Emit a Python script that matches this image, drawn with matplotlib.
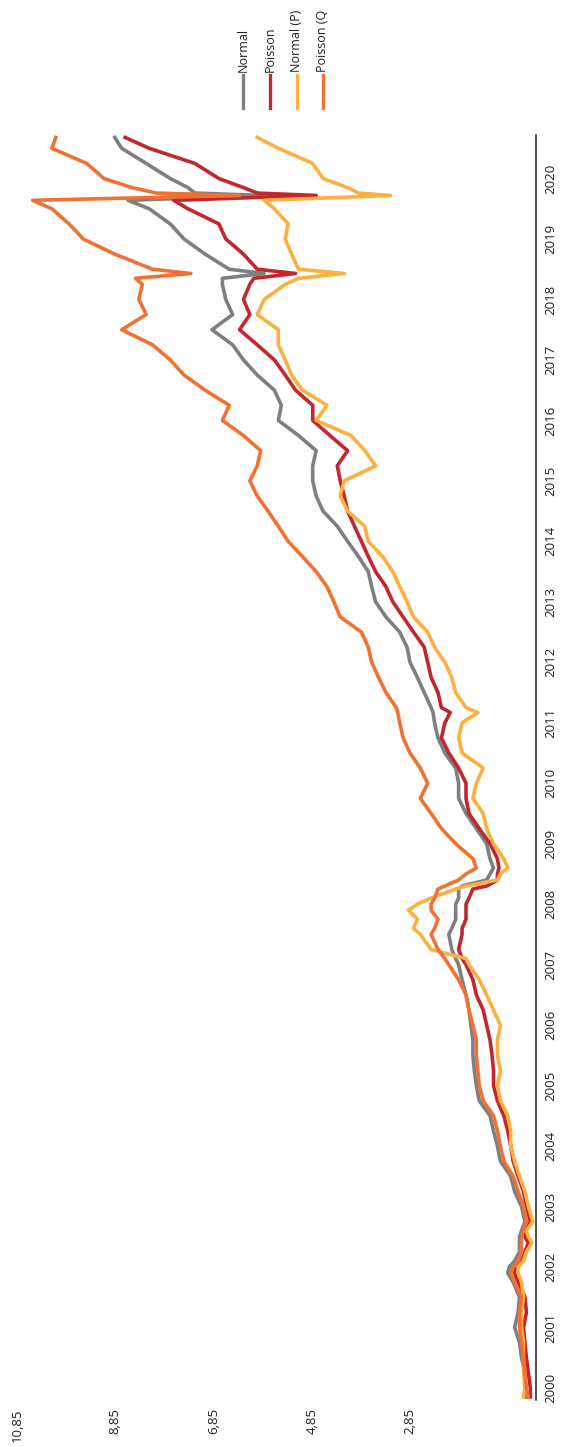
import matplotlib
matplotlib.use("Agg")
import matplotlib.pyplot as plt
from matplotlib.lines import Line2D

plt.rcParams['font.family'] = ['Open Sans', 'DejaVu Sans']

# time axis (years) shared by all series
years = [
    1999.85, 2000.0, 2000.25, 2000.5, 2000.75,
    2001.0, 2001.25, 2001.5, 2001.75, 2001.9,
    2002.0, 2002.1, 2002.25, 2002.4, 2002.5,
    2002.6, 2002.75, 2003.0, 2003.25, 2003.5,
    2003.75, 2004.0, 2004.25, 2004.5, 2004.75,
    2005.0, 2005.25, 2005.5, 2005.75, 2006.0,
    2006.25, 2006.5, 2006.75, 2007.0, 2007.1,
    2007.25, 2007.5, 2007.6, 2007.75, 2007.9,
    2008.0, 2008.1, 2008.25, 2008.3, 2008.4,
    2008.5, 2008.6, 2008.75, 2009.0, 2009.25,
    2009.5, 2009.75, 2010.0, 2010.25, 2010.5,
    2010.75, 2011.0, 2011.17, 2011.25, 2011.5,
    2011.75, 2012.0, 2012.25, 2012.5, 2012.75,
    2013.0, 2013.25, 2013.5, 2013.75, 2014.0,
    2014.25, 2014.5, 2014.75, 2015.0, 2015.25,
    2015.5, 2015.75, 2016.0, 2016.25, 2016.5,
    2016.75, 2017.0, 2017.25, 2017.5, 2017.75,
    2018.0, 2018.25, 2018.35, 2018.43, 2018.5,
    2018.75, 2019.0, 2019.25, 2019.5, 2019.64,
    2019.72, 2019.76, 2019.85, 2020.0, 2020.25,
    2020.5, 2020.68]

normal = [
    0.48, 0.51, 0.51, 0.58, 0.62,
    0.72, 0.65, 0.62, 0.75, 0.86,
    0.83, 0.72, 0.62, 0.62, 0.62,
    0.58, 0.51, 0.58, 0.72, 0.80,
    1.01, 1.07, 1.15, 1.22, 1.44,
    1.50, 1.54, 1.57, 1.57, 1.61,
    1.65, 1.71, 1.79, 1.86, 1.92,
    2.00, 2.06, 2.00, 1.92, 1.92,
    1.92, 1.86, 1.86, 1.79, 1.29,
    1.22, 1.15, 1.22, 1.29, 1.50,
    1.71, 1.86, 1.86, 1.92, 2.14,
    2.28, 2.35, 2.38, 2.42, 2.56,
    2.70, 2.85, 2.91, 3.06, 3.34,
    3.55, 3.63, 3.70, 3.90, 4.12,
    4.33, 4.62, 4.76, 4.83, 4.83,
    4.76, 5.12, 5.53, 5.47, 5.61,
    5.96, 6.24, 6.46, 6.88, 6.46,
    6.60, 6.67, 6.67, 5.82, 6.53,
    7.02, 7.45, 7.73, 8.16, 8.59,
    5.84, 7.23, 7.37, 7.73, 8.22,
    8.72, 8.86]

poisson = [
    0.40, 0.40, 0.44, 0.48, 0.51,
    0.54, 0.48, 0.51, 0.65, 0.72,
    0.69, 0.58, 0.51, 0.44, 0.51,
    0.51, 0.40, 0.48, 0.54, 0.65,
    0.75, 0.80, 0.86, 0.94, 1.07,
    1.15, 1.15, 1.18, 1.22, 1.29,
    1.36, 1.50, 1.57, 1.71, 1.79,
    1.86, 1.79, 1.79, 1.71, 1.71,
    1.71, 1.65, 1.57, 1.29, 1.07,
    1.07, 1.04, 1.07, 1.22, 1.44,
    1.65, 1.71, 1.71, 1.86, 2.06,
    2.21, 2.14, 2.03, 2.21, 2.28,
    2.42, 2.49, 2.56, 2.78, 2.99,
    3.20, 3.34, 3.55, 3.70, 3.84,
    3.98, 4.12, 4.19, 4.27, 4.33,
    4.12, 4.48, 4.83, 4.83, 5.18,
    5.39, 5.61, 5.96, 6.32, 6.11,
    6.24, 6.11, 6.03, 5.18, 5.96,
    6.24, 6.60, 6.74, 7.37, 7.66,
    4.76, 5.96, 6.24, 6.74, 7.23,
    8.16, 8.65]

normal_p = [
    0.54, 0.51, 0.54, 0.54, 0.54,
    0.58, 0.58, 0.54, 0.58, 0.65,
    0.65, 0.54, 0.48, 0.37, 0.44,
    0.48, 0.35, 0.44, 0.51, 0.62,
    0.72, 0.80, 0.80, 0.86, 1.01,
    1.07, 1.01, 1.07, 1.07, 1.01,
    1.15, 1.29, 1.44, 1.65, 1.71,
    2.42, 2.64, 2.78, 2.70, 2.88,
    2.70, 2.42, 1.92, 1.71, 1.07,
    1.01, 0.86, 0.94, 1.15, 1.29,
    1.36, 1.57, 1.50, 1.36, 1.79,
    1.86, 1.79, 1.47, 1.71, 1.92,
    2.00, 2.14, 2.35, 2.49, 2.78,
    2.91, 3.06, 3.20, 3.41, 3.70,
    3.77, 4.12, 4.27, 4.19, 3.55,
    3.77, 4.05, 4.76, 4.54, 5.04,
    5.26, 5.39, 5.53, 5.53, 5.96,
    5.82, 5.39, 5.12, 4.19, 5.12,
    5.26, 5.39, 5.33, 5.61, 5.82,
    3.25, 3.90, 4.12, 4.62, 4.83,
    5.53, 5.96]

poisson_q = [
    0.44, 0.48, 0.51, 0.54, 0.58,
    0.62, 0.62, 0.58, 0.72, 0.80,
    0.75, 0.65, 0.58, 0.58, 0.58,
    0.54, 0.48, 0.54, 0.65, 0.75,
    0.94, 1.01, 1.07, 1.15, 1.36,
    1.44, 1.47, 1.50, 1.50, 1.57,
    1.65, 1.71, 1.86, 2.06, 2.14,
    2.28, 2.42, 2.35, 2.28, 2.42,
    2.42, 2.35, 2.28, 2.14, 1.86,
    1.71, 1.50, 1.57, 1.92, 2.21,
    2.42, 2.64, 2.49, 2.64, 2.85,
    2.99, 3.06, 3.10, 3.13, 3.34,
    3.49, 3.63, 3.70, 3.84, 4.27,
    4.40, 4.54, 4.76, 5.04, 5.33,
    5.53, 5.74, 5.96, 6.11, 5.96,
    5.89, 6.24, 6.67, 6.53, 7.02,
    7.45, 7.73, 8.09, 8.72, 8.22,
    8.37, 8.30, 8.44, 7.31, 8.09,
    8.86, 9.50, 9.79, 10.14, 10.53,
    6.32, 8.01, 8.51, 9.08, 9.43,
    10.14, 10.06]

labels = ["Normal", "Poisson", "Normal (P)", "Poisson (Q"]
colors = ["#7d7f80", "#c1272d", "#fbb040", "#f07232"]
series = [normal, poisson, normal_p, poisson_q]

value_ticks = [2.85, 4.85, 6.85, 8.85, 10.85]
value_labels = ["2,85", "4,85", "6,85", "8,85", "10,85"]
year_ticks = list(range(2000, 2021))

W, H = 561, 1447
fig = plt.figure(figsize=(W / 100, H / 100), dpi=100)

# chart is drawn turned a quarter turn: values run right-to-left, time runs upward
ax = fig.add_axes([17 / W, 1 - 1400 / H, 519 / W, 1265 / H])
for vals, c in zip(series, colors):
    ax.plot(vals, years, color=c, lw=2.6, solid_joinstyle="round")

ax.set_xlim(10.85, 0.285)
ax.set_ylim(1999.80, 2020.72)

for s in ["top", "left", "bottom"]:
    ax.spines[s].set_visible(False)
ax.spines["right"].set_linewidth(1.1)
ax.spines["right"].set_color("#231f20")

ax.set_xticks(value_ticks)
ax.set_xticklabels(value_labels, rotation=90, fontsize=9.5, color="#231f20")
ax.tick_params(axis="x", length=0, pad=6)

ax.yaxis.tick_right()
ax.set_yticks(year_ticks)
ax.set_yticklabels([str(y) for y in year_ticks], rotation=90, fontsize=9.5,
                   color="#231f20", va="center")
ax.tick_params(axis="y", length=0, pad=6)

# legend, turned like the chart
leg_x = [243, 270, 297, 323]
for x, lab, c in zip(leg_x, labels, colors):
    fig.add_artist(Line2D([x / W, x / W], [1 - 75 / H, 1 - 108 / H],
                          color=c, lw=2.4, transform=fig.transFigure))
    fig.text(x / W, 1 - 72 / H, lab, rotation=90, ha="center", va="bottom",
             fontsize=9, color="#231f20")

fig.savefig("out.png", dpi=100)
